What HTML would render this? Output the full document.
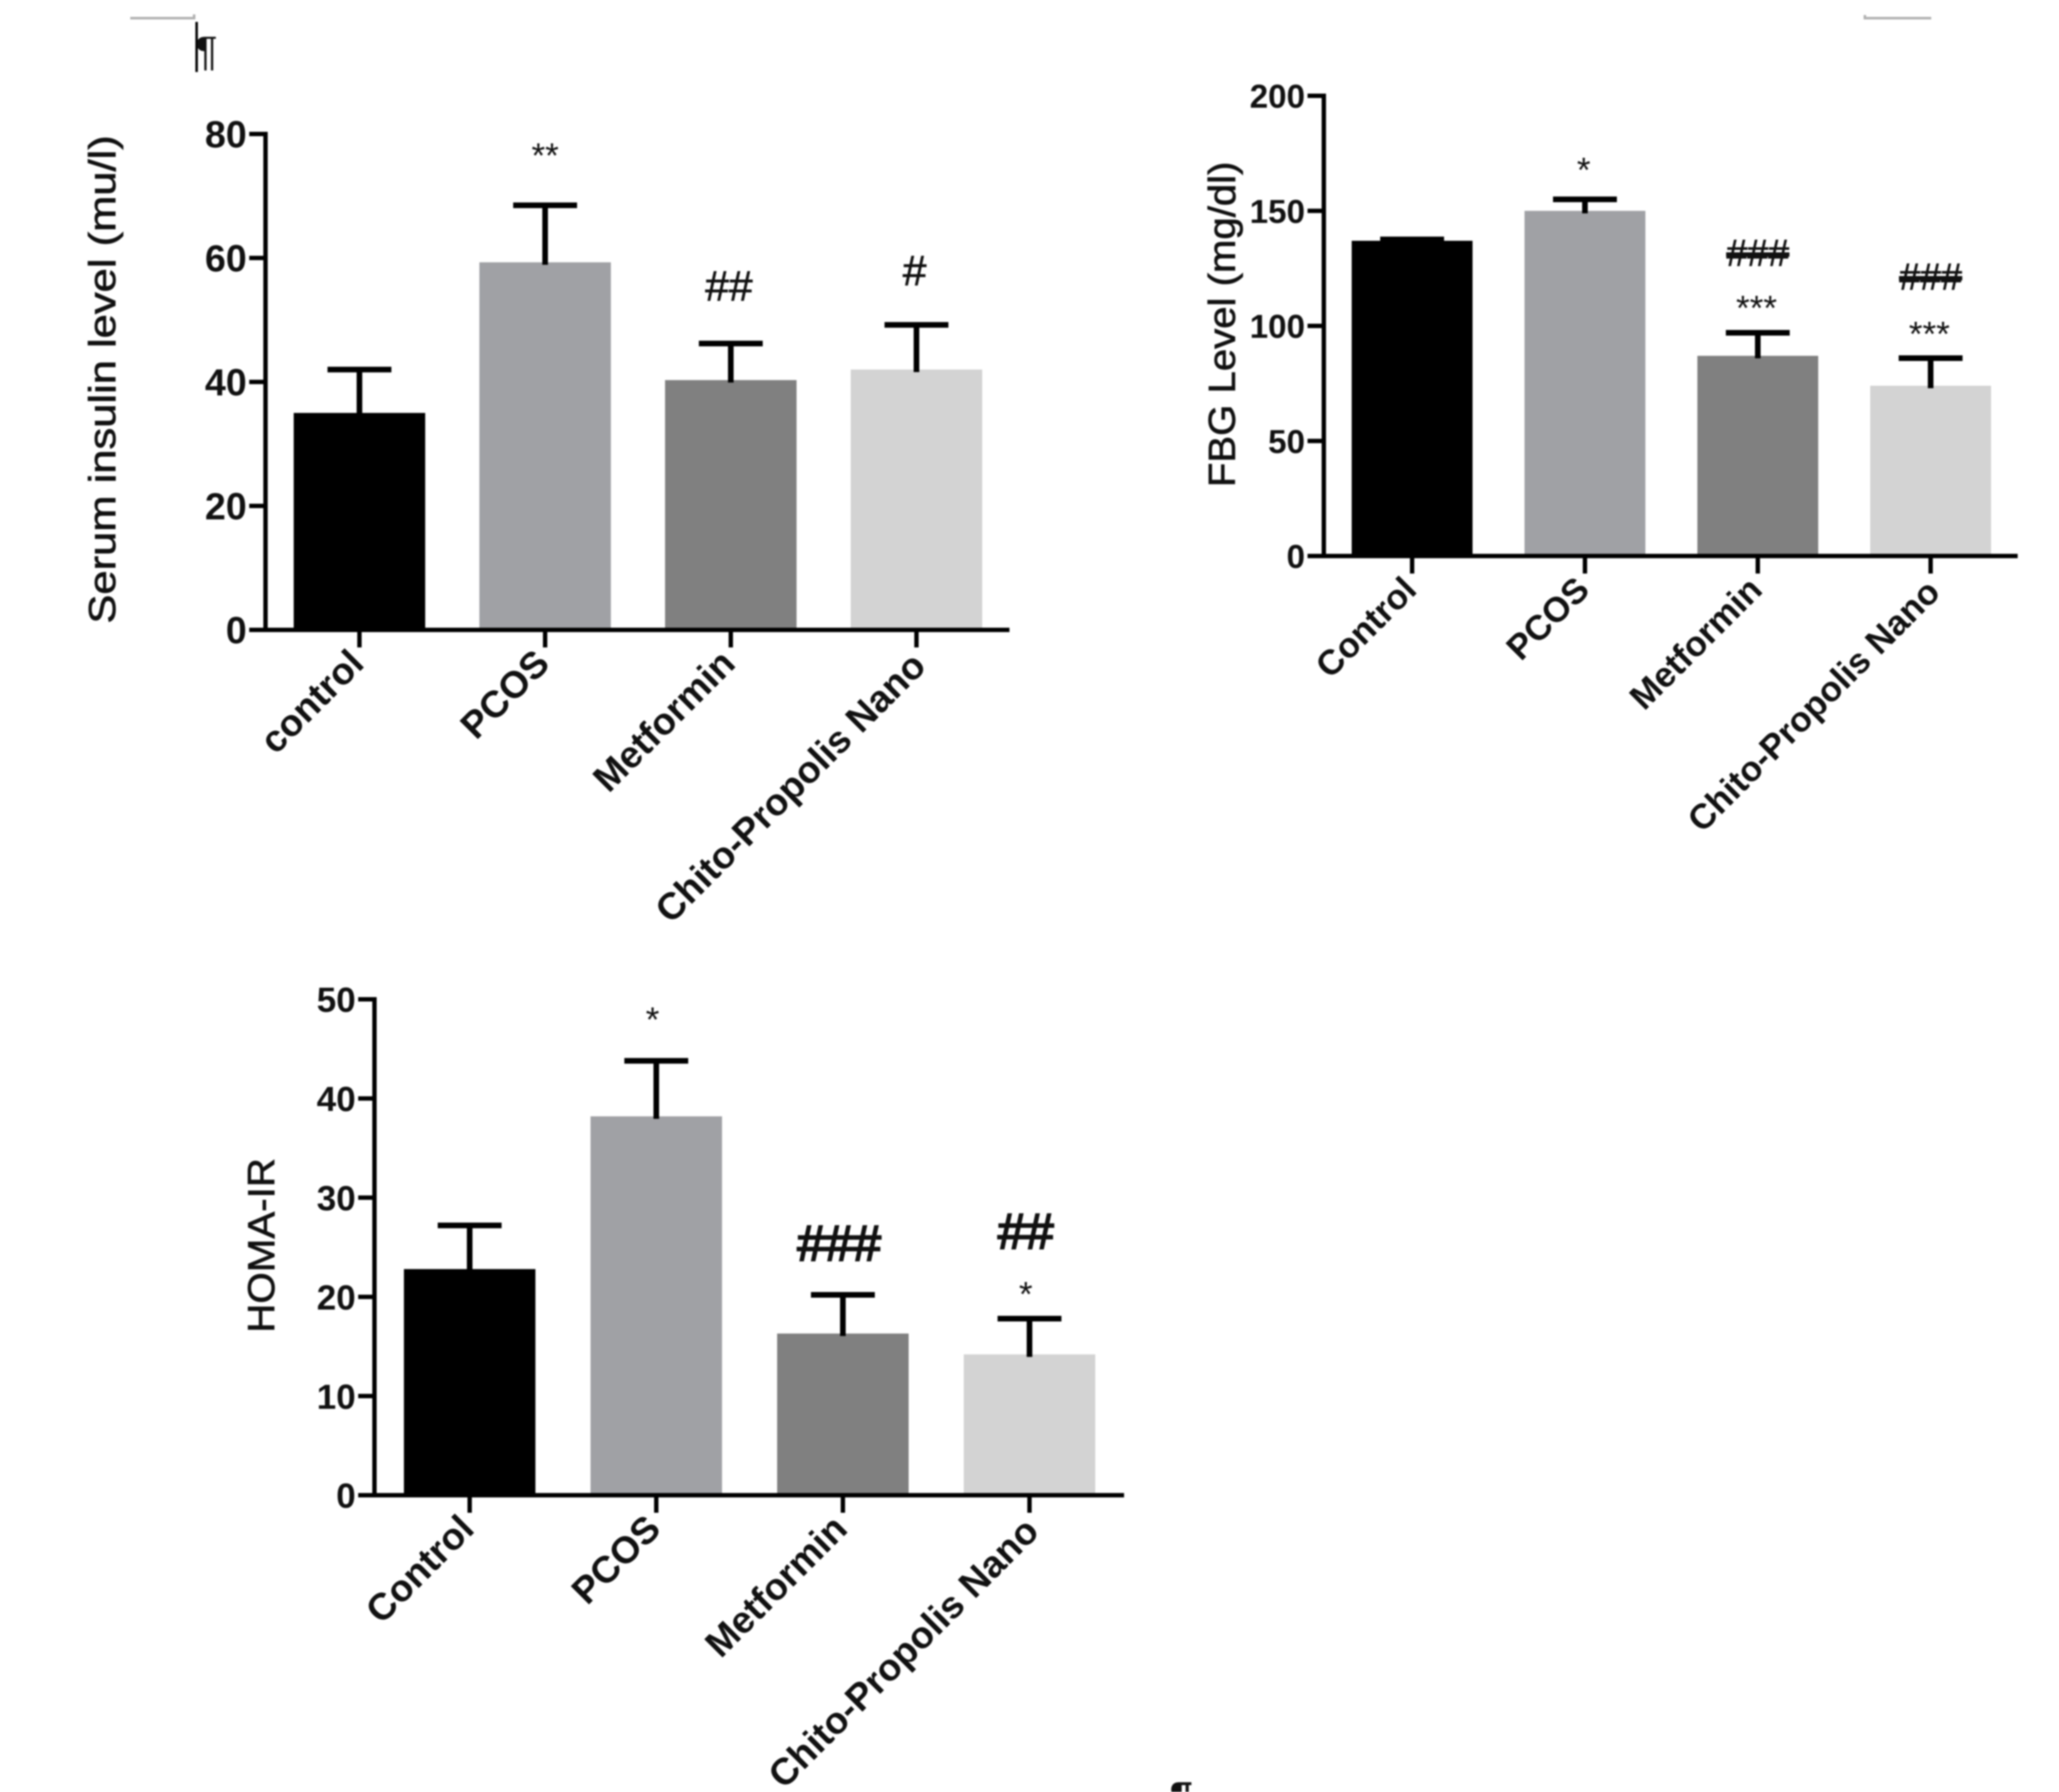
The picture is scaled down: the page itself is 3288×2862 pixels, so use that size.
<!DOCTYPE html>
<html lang="en">
<head>
<meta charset="utf-8">
<title>Serum insulin, FBG and HOMA-IR bar charts</title>
<style>
html,body{margin:0;padding:0;background:#fff;}
body{width:3288px;height:2862px;overflow:hidden;}
svg{display:block;filter:blur(1.2px);}
text{font-family:"Liberation Sans",sans-serif;fill:#111;}
</style>
</head>
<body>
<svg id="fig" xmlns="http://www.w3.org/2000/svg" width="3288" height="2862" viewBox="0 0 3288 2862">
  <g>
    <path d="M208 29H310V23" fill="none" stroke="#b0b0b0" stroke-width="4"/>
    <path d="M2978 24V29H3084" fill="none" stroke="#b0b0b0" stroke-width="4"/>
    <rect x="312" y="35" width="4" height="80" fill="#000"/>
    <text x="312" y="104" font-size="66">¶</text>
    <text x="1868" y="2892" font-size="66" font-weight="bold">¶</text>
  </g>
</svg>
<script>
// Chart 1: serum insulin
const insulinCategories = ['control', 'PCOS', 'Metformin', 'Chito-Propolis Nano'];
const insulinMeans = [35, 59.3, 40.3, 42];
const insulinErrorTops = [42, 68.5, 46.2, 49.2];
const insulinTicks = [0, 20, 40, 60, 80];
const insulinStarLabels = ['', '**', '', ''];
const insulinStarValues = [null, 77.2, null, null];
const insulinHashLabels = ['', '', '##', '#'];
const insulinHashValues = [null, null, 55.6, 58.1];

// Chart 2: fasting blood glucose
const fbgCategories = ['Control', 'PCOS', 'Metformin', 'Chito-Propolis Nano'];
const fbgMeans = [137, 150, 87, 74];
const fbgErrorTops = [137.6, 155, 97, 86];
const fbgTicks = [0, 50, 100, 150, 200];
const fbgStarLabels = ['', '*', '***', '***'];
const fbgStarValues = [null, 169.7, 109.7, 98.3];
const fbgHashLabels = ['', '', '###', '###'];
const fbgHashValues = [null, null, 132, 121.7];

// Chart 3: HOMA-IR
const homaCategories = ['Control', 'PCOS', 'Metformin', 'Chito-Propolis Nano'];
const homaMeans = [22.8, 38.2, 16.3, 14.2];
const homaErrorTops = [27.2, 43.8, 20.2, 17.8];
const homaTicks = [0, 10, 20, 30, 40, 50];
const homaStarLabels = ['', '*', '', '*'];
const homaStarValues = [null, 48.4, null, 20.7];
const homaHashLabels = ['', '', '###', '##'];
const homaHashValues = [null, null, 25.5, 26.7];

const barColors = ['#000000', '#a0a1a5', '#808080', '#d3d3d3'];
const NS = 'http://www.w3.org/2000/svg';
const fig = document.getElementById('fig');

function mk(tag, attrs, parent) {
  const el = document.createElementNS(NS, tag);
  for (const k in attrs) el.setAttribute(k, attrs[k]);
  parent.appendChild(el);
  return el;
}

function drawChart(c) {
  const g = mk('g', {}, fig);
  
  

  const yOf = v => c.y0 - (v / c.yMax) * (c.y0 - c.yTop);
  const xOf = i => c.xFirst + i * c.xStep;

  c.means.forEach((m, i) => {
    const bar = mk('rect', {x: xOf(i) - c.barW / 2, y: yOf(m), width: c.barW, height: c.y0 - yOf(m), fill: barColors[i]}, g);
    
    

    const stem = mk('line', {x1: xOf(i), x2: xOf(i), y1: yOf(m) + 4, y2: yOf(c.tops[i]), stroke: '#000', 'stroke-width': 9}, g);
    
    

    const cap = mk('line', {x1: xOf(i) - 51, x2: xOf(i) + 51, y1: yOf(c.tops[i]), y2: yOf(c.tops[i]), stroke: '#000', 'stroke-width': 9}, g);
    
    
  });

  const yAxis = mk('line', {x1: c.axisX, x2: c.axisX, y1: c.yTop - 3.5, y2: c.y0 + 3.5, stroke: '#000', 'stroke-width': 7}, g);
  
  

  const xAxis = mk('line', {x1: c.axisX - 26, x2: c.axisEnd, y1: c.y0, y2: c.y0, stroke: '#000', 'stroke-width': 7}, g);
  
  

  c.ticks.forEach(t => {
    const tick = mk('line', {x1: c.axisX - 26, x2: c.axisX, y1: yOf(t), y2: yOf(t), stroke: '#000', 'stroke-width': 7}, g);
    
    

    const label = mk('text', {x: c.axisX - 30, y: yOf(t) + c.tickSize * 0.36, 'text-anchor': 'end', 'font-size': c.tickSize, 'font-weight': 'bold'}, g);
    label.textContent = t;
    
    
  });

  c.categories.forEach((name, i) => {
    const tick = mk('line', {x1: xOf(i), x2: xOf(i), y1: c.y0, y2: c.y0 + 28, stroke: '#000', 'stroke-width': 7}, g);
    
    

    const isLong = name.length > 10;
    const lx = xOf(i) + (isLong ? 18 : 10), ly = c.y0 + (isLong ? 61 : 57);
    const label = mk('text', {x: lx, y: ly, 'text-anchor': 'end', 'font-size': c.labelSize, 'font-weight': 'bold', transform: 'rotate(-45 ' + lx + ' ' + ly + ')'}, g);
    label.textContent = name;
    
    
  });

  c.starLabels.forEach((s, i) => {
    if (!s) return;
    const star = mk('text', {x: xOf(i) + c.starShift, y: yOf(c.starValues[i]) + 26, 'text-anchor': 'middle', 'font-size': 56}, g);
    star.textContent = s;
    
    
  });

  c.hashLabels.forEach((s, i) => {
    if (!s) return;
    const hash = mk('text', {x: xOf(i) + c.hashShift, y: yOf(c.hashValues[i]) + c.hashSize * 0.36, 'text-anchor': 'middle', 'font-size': c.hashSize, stroke: '#111', 'stroke-width': c.hashWeight, 'text-decoration': c.hashStrike ? 'line-through' : 'none'}, g);
    hash.textContent = s;
    
    
  });

  const title = mk('text', {x: c.titleX, y: c.titleY, 'text-anchor': 'middle', 'font-size': 60, stroke: '#111', 'stroke-width': 1, textLength: c.titleLen, lengthAdjust: 'spacingAndGlyphs', transform: 'rotate(-90 ' + c.titleX + ' ' + c.titleY + ')'}, g);
  title.textContent = c.title;
  
  
}

drawChart({id: 'insulin', title: 'Serum insulin level (mu/l)', categories: insulinCategories, means: insulinMeans, tops: insulinErrorTops, ticks: insulinTicks,
  starLabels: insulinStarLabels, starValues: insulinStarValues, hashLabels: insulinHashLabels, hashValues: insulinHashValues,
  yMax: 80, yTop: 214, y0: 1006, axisX: 424, axisEnd: 1612, xFirst: 574, xStep: 296.5, barW: 210, hashSize: 68, hashWeight: 1, hashStrike: false, starShift: 0, hashShift: -3, tickSize: 60, labelSize: 60, titleX: 184, titleY: 606, titleLen: 780});

drawChart({id: 'fbg', title: 'FBG Level (mg/dl)', categories: fbgCategories, means: fbgMeans, tops: fbgErrorTops, ticks: fbgTicks,
  starLabels: fbgStarLabels, starValues: fbgStarValues, hashLabels: fbgHashLabels, hashValues: fbgHashValues,
  yMax: 200, yTop: 153, y0: 888, axisX: 2114, axisEnd: 3222, xFirst: 2255, xStep: 276, barW: 193, hashSize: 60, hashWeight: 1, hashStrike: true, starShift: -2, hashShift: 0, tickSize: 53, labelSize: 56, titleX: 1972, titleY: 518, titleLen: 520});

drawChart({id: 'homa', title: 'HOMA-IR', categories: homaCategories, means: homaMeans, tops: homaErrorTops, ticks: homaTicks,
  starLabels: homaStarLabels, starValues: homaStarValues, hashLabels: homaHashLabels, hashValues: homaHashValues,
  yMax: 50, yTop: 1596, y0: 2388, axisX: 598, axisEnd: 1795, xFirst: 750, xStep: 298, barW: 210, hashSize: 80, hashWeight: 3, hashStrike: false, starShift: -6, hashShift: -6, tickSize: 56, labelSize: 60, titleX: 438, titleY: 1989, titleLen: 279});
</script>
</body>
</html>
